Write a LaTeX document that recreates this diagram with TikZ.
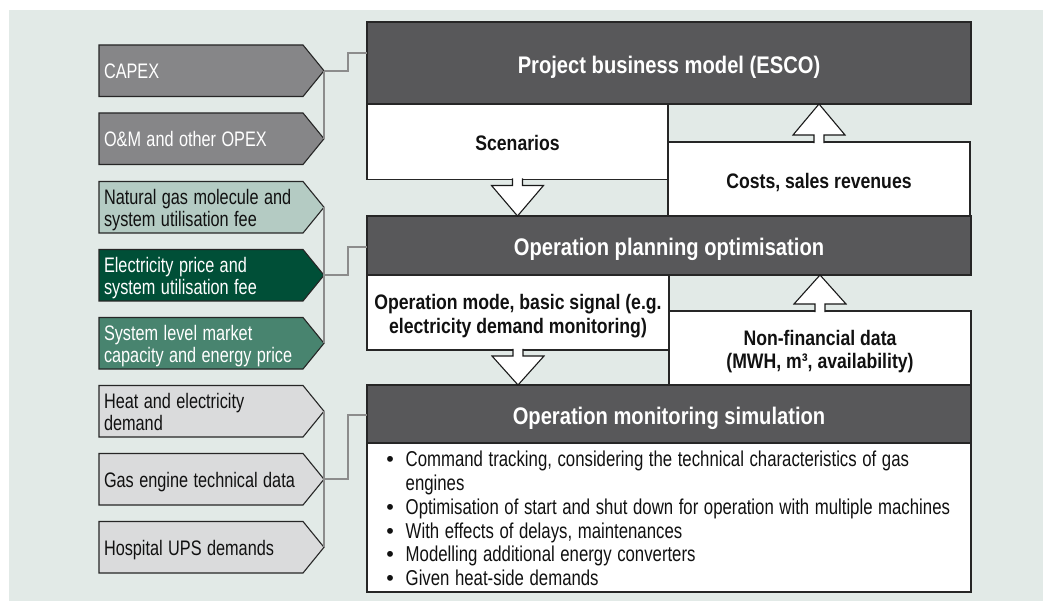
\documentclass[tikz,border=0pt]{standalone}
\usepackage{graphicx}
\usepackage{fontspec}
\setmainfont{Liberation Sans}
\usetikzlibrary{calc,backgrounds}
\definecolor{bgc}{HTML}{E2EAE7}
\definecolor{cdark}{HTML}{58585A}
\definecolor{cgray}{HTML}{868688}
\definecolor{cmint}{HTML}{B4CBC3}
\definecolor{cdgreen}{HTML}{004F37}
\definecolor{cmgreen}{HTML}{48846F}
\definecolor{clight}{HTML}{DADBDC}
\definecolor{cconn}{HTML}{8C8C8C}
\definecolor{ctext}{HTML}{111111}
% condensed text helpers
\newcommand\lbltxt[1]{\raisebox{-3.5pt}[\height][\depth]{\scalebox{0.775}[1]{\begin{tabular}{@{}l@{}}#1\end{tabular}}}}
\newcommand\hdrtxt[1]{\raisebox{-5pt}[\height][\depth]{\scalebox{0.84}[1]{\begin{tabular}{@{}c@{}}#1\end{tabular}}}}
\newcommand\subtxt[1]{\raisebox{-4.5pt}[\height][\depth]{\scalebox{0.84}[1]{\begin{tabular}{@{}c@{}}#1\end{tabular}}}}
\newcommand\bultxt[1]{\scalebox{0.78}[1]{#1}}
\newcommand\bulmark{\makebox[18.7pt][l]{\hspace{-0.6pt}\textbullet}}
\begin{document}
\begin{tikzpicture}[x=1pt,y=-1pt,
  lbl/.style={anchor=north west, minimum width=204, minimum height=51.5,
    text width=194, inner xsep=5, inner ysep=0, outer sep=0, align=left,
    font=\fontsize{21}{22}\selectfont},
  box/.style={draw=black!85, line width=1.3, outer sep=0, inner sep=0, anchor=north west},
  dark/.style={box, fill=cdark, text=white, font=\bfseries\fontsize{24}{26}\selectfont},
  wbox/.style={box, fill=white, text=ctext, font=\bfseries\fontsize{21}{23.5}\selectfont},
  hollow/.style={fill=white, draw=black!90, line width=1.1, line join=miter},
  lshape/.style={draw=black!85, line width=1.1, line join=miter},
  conn/.style={draw=cconn, line width=2.4}
]
\useasboundingbox (0,0) rectangle (1043,601);

% label arrows (text)
\node[lbl, text=white] (capex) at (99,45) {\lbltxt{CAPEX}};
\node[lbl, text=white] (om) at (99,113) {\lbltxt{O\&M and other OPEX}};
\node[lbl, text=ctext] (nat) at (99,181.5) {\lbltxt{Natural gas molecule and\\system utilisation fee}};
\node[lbl, text=white] (elec) at (99,249.5) {\lbltxt{Electricity price and\\system utilisation fee}};
\node[lbl, text=white] (sys) at (99,317.5) {\lbltxt{System level market\\capacity and energy price}};
\node[lbl, text=ctext] (heat) at (99,385.5) {\lbltxt{Heat and electricity\\demand}};
\node[lbl, text=ctext] (gas) at (99,453.5) {\lbltxt{Gas engine technical data}};
\node[lbl, text=ctext] (hosp) at (99,521.5) {\lbltxt{Hospital UPS demands}};

\foreach \n in {capex,om,nat,elec,sys,heat,gas,hosp}
  \coordinate (\n-tip) at ($(\n.east)+(21,0)$);

\begin{scope}[on background layer]
  \fill[bgc] (9,10) rectangle (1043,601);
  \foreach \n/\c in {capex/cgray,om/cgray,nat/cmint,elec/cdgreen,sys/cmgreen,heat/clight,gas/clight,hosp/clight}
    \filldraw[lshape, fill=\c] (\n.north west) -- (\n.north east) -- (\n-tip)
      -- (\n.south east) -- (\n.south west) -- cycle;
\end{scope}

% main boxes
\node[dark, minimum width=604, minimum height=82] (pbm) at (367,22) {\hdrtxt{Project business model (ESCO)}};
\node[wbox, minimum width=301, minimum height=75.5] (scen) at (367,104) {\subtxt{Scenarios}};
\node[wbox, minimum width=302, minimum height=74] (costs) at (668,142) {\subtxt{Costs, sales revenues}};
\node[dark, minimum width=604, minimum height=59] (opo) at (367,216) {\hdrtxt{Operation planning optimisation}};
\node[wbox, minimum width=302, minimum height=75] (opmode) at (367,275) {\subtxt{Operation mode, basic signal (e.g.\\electricity demand monitoring)}};
\node[wbox, minimum width=302, minimum height=74] (nonfin) at (669,311) {\subtxt{Non-financial data\\(MWH, m³, availability)}};
\node[dark, minimum width=604, minimum height=58] (oms) at (367,385) {\hdrtxt{Operation monitoring simulation}};
\node[box, fill=white, text=ctext, minimum width=604, minimum height=149, text width=564,
  inner xsep=20, inner ysep=0, align=left, font=\fontsize{21.5}{23.8}\selectfont] (blist) at (367,443)
{\raisebox{-4pt}[\height][\depth]{\begin{tabular}{@{}l@{}l@{}}
\bulmark & \bultxt{Command tracking, considering the technical characteristics of gas}\\
 & \bultxt{engines}\\
\bulmark & \bultxt{Optimisation of start and shut down for operation with multiple machines}\\
\bulmark & \bultxt{With effects of delays, maintenances}\\
\bulmark & \bultxt{Modelling additional energy converters}\\
\bulmark & \bultxt{Given heat-side demands}
\end{tabular}}};

% hollow arrows
\coordinate (a1s) at (scen.south);
\coordinate (a1t) at (opo.north -| scen.south);
\filldraw[hollow] ($(a1s)+(-5,-1.2)$) -- ($(a1s)+(-5,6)$) -- ($(a1s)+(-26,6)$) -- (a1t)
  -- ($(a1s)+(26,6)$) -- ($(a1s)+(5,6)$) -- ($(a1s)+(5,-1.2)$);
\coordinate (a2s) at (opmode.south);
\coordinate (a2t) at (oms.north -| opmode.south);
\filldraw[hollow] ($(a2s)+(-5,-1.2)$) -- ($(a2s)+(-5,6)$) -- ($(a2s)+(-26,6)$) -- (a2t)
  -- ($(a2s)+(26,6)$) -- ($(a2s)+(5,6)$) -- ($(a2s)+(5,-1.2)$);
\coordinate (b1s) at (costs.north);
\coordinate (b1t) at (pbm.south -| costs.north);
\filldraw[hollow] ($(b1s)+(-5,1.2)$) -- ($(b1s)+(-5,-7)$) -- ($(b1s)+(-26,-7)$) -- (b1t)
  -- ($(b1s)+(26,-7)$) -- ($(b1s)+(5,-7)$) -- ($(b1s)+(5,1.2)$);
\coordinate (b2s) at (nonfin.north);
\coordinate (b2t) at (opo.south -| nonfin.north);
\filldraw[hollow] ($(b2s)+(-5,1.2)$) -- ($(b2s)+(-5,-7)$) -- ($(b2s)+(-26,-7)$) -- (b2t)
  -- ($(b2s)+(26,-7)$) -- ($(b2s)+(5,-7)$) -- ($(b2s)+(5,1.2)$);

% connectors
\coordinate (j1) at (348,53);
\coordinate (j2) at (348,247);
\coordinate (j3) at (348,415);
\draw[conn] (capex-tip) -- (om-tip);
\draw[conn] (capex-tip) -| (j1) -- (j1 -| pbm.west);
\draw[conn] (nat-tip) -- (sys-tip);
\draw[conn] (elec-tip) -| (j2) -- (j2 -| opo.west);
\draw[conn] (heat-tip) -- (hosp-tip);
\draw[conn] (gas-tip) -| (j3) -- (j3 -| oms.west);
\end{tikzpicture}
\end{document}
